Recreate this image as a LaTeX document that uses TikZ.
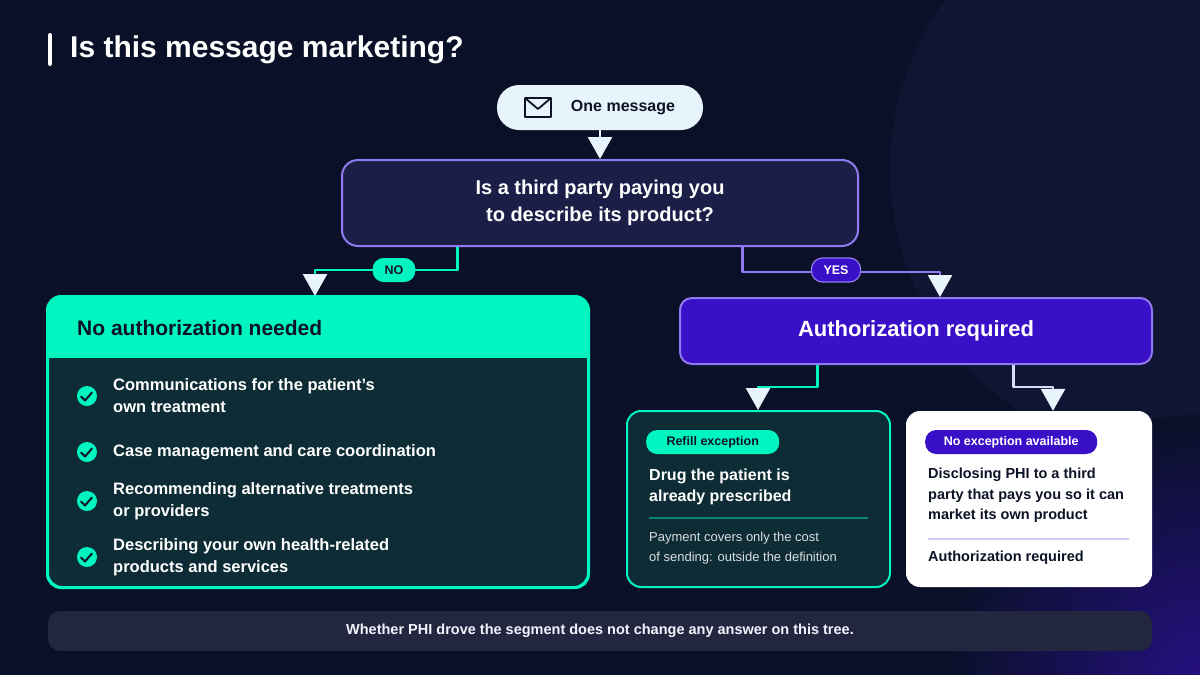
\documentclass[tikz,border=0pt]{standalone}
\usepackage{fontspec}
\setmainfont{Liberation Sans}
\usetikzlibrary{arrows.meta,calc,positioning}
\definecolor{bgdark}{HTML}{0A1027}
\definecolor{bglight}{HTML}{0F1533}
\definecolor{mint}{HTML}{00F5C0}
\definecolor{teal}{HTML}{0E2C35}
\definecolor{violet}{HTML}{3A0FC8}
\definecolor{lilac}{HTML}{8F7BEF}
\definecolor{navy}{HTML}{1B1F48}
\definecolor{ink}{HTML}{0D1326}
\definecolor{ice}{HTML}{E8F4FC}
\definecolor{footer}{HTML}{22263F}
\newcommand{\fs}[2]{\fontsize{#1}{#2}\selectfont}
\tikzset{
  flow/.style={line width=2.6pt,-{Triangle[width=24pt,length=22pt,color=ice]}},
  pill/.style={rounded corners=11pt,minimum height=24pt,inner xsep=12pt,font=\bfseries\fs{12.5}{15}},
  item/.style={anchor=west,align=left,text=white,font=\bfseries\fs{16.5}{22},inner sep=0pt},
  tick/.style={circle,fill=mint,minimum size=20pt,inner sep=0pt}
}
\begin{document}
\begin{tikzpicture}[x=1pt,y=-1pt,line join=round]
  \useasboundingbox (0,0) rectangle (1200,675);
  \fill[bgdark] (0,0) rectangle (1200,675);
  \begin{scope}
    \clip (0,0) rectangle (1200,675);
    \fill[bglight] (1180,170) circle (290);
    \shade[inner color=violet!55!bgdark,outer color=bgdark] (1200,675) circle (260);
  \end{scope}
  % title
  \draw[white,line width=4pt,line cap=round] (50,35) -- (50,64);
  \node[anchor=west,text=white,font=\bfseries\fs{30}{36},inner sep=0pt] (title) at (70,50) {Is this message marketing?};
  % start and question
  \node[fill=ice,rounded corners=22pt,minimum width=206pt,minimum height=45pt] (msg) at (600,107.5) {};
  \node[text=ink,font=\bfseries\fs{16}{19},inner sep=0pt] (msgtext) at (623,107.5) {One message};
  \draw[ink,line width=1.8pt] (525,98) rectangle (551,117) (525,98) -- (538,109) -- (551,98);
  \node[draw=lilac,line width=2pt,fill=navy,rounded corners=16pt,minimum width=516pt,minimum height=86pt,
        align=center,text=white,font=\bfseries\fs{20}{27}] (q) at (600,203) {Is a third party paying you\\to describe its product?};
  \draw[flow,ice] (msg.south) -- (q.north);
  % outcome boxes
  \node[draw=mint,line width=2pt,fill=teal,rounded corners=14pt,minimum width=540pt,minimum height=290pt] (noauth) at (318,442) {};
  \begin{scope}
    \clip[rounded corners=14pt] (noauth.north west) rectangle (noauth.south east);
    \fill[mint] (noauth.north west) rectangle (588,358);
  \end{scope}
  \draw[mint,line width=2pt,rounded corners=14pt] (noauth.north west) rectangle (noauth.south east);
  \node[anchor=west,text=ink,font=\bfseries\fs{21}{25},inner sep=0pt] (nohead) at (77,328) {No authorization needed};
  \node[draw=lilac,line width=2pt,fill=violet,rounded corners=12pt,minimum width=472pt,minimum height=66pt,
        text=white,font=\bfseries\fs{22}{26}] (auth) at (916,331) {Authorization required};
  % connectors
  \coordinate (noturn) at (315,270);
  \coordinate (yesturn) at (940,272);
  \draw[flow,mint] ($(q.south west)!0.225!(q.south east)$) |- (noturn) -- (noauth.north -| noturn);
  \draw[flow,lilac] ($(q.south west)!0.775!(q.south east)$) |- (yesturn) -- (auth.north -| yesturn);
  \node[pill,fill=mint,text=ink] (nolabel) at (394,270) {NO};
  \node[pill,draw=lilac,line width=1.2pt,fill=violet,text=white] (yeslabel) at (836,270) {YES};
  % checklist
  \foreach \y/\txt in {396/{Communications for the patient's\\own treatment},
                       452/{Case management and care coordination},
                       501/{Recommending alternative treatments\\or providers},
                       557/{Describing your own health-related\\products and services}}{
    \node[tick] (c\y) at (87,\y) {};
    \draw[ink,line width=2pt,line cap=round] (81,\y) ++(0,0.5) -- ++(4,4) -- ++(7,-8);
    \node[item] (t\y) at (113,\y) {\txt};
  }
  % sub cases
  \node[draw=mint,line width=2pt,fill=teal,rounded corners=14pt,minimum width=263pt,minimum height=176pt] (refill) at (758.5,499) {};
  \node[fill=white,rounded corners=14pt,minimum width=246pt,minimum height=176pt] (noexc) at (1029,499) {};
  \coordinate (lturn) at (758,387);
  \coordinate (rturn) at (1053,387);
  \draw[flow,mint] ($(auth.south west)!0.292!(auth.south east)$) |- (lturn) -- (refill.north -| lturn);
  \draw[flow,ice!80!lilac] ($(auth.south west)!0.706!(auth.south east)$) |- (rturn) -- (noexc.north -| rturn);
  % refill card
  \node[pill,fill=mint,text=ink,anchor=west,minimum width=133pt] (refpill) at (646,442) {Refill exception};
  \node[item,font=\bfseries\fs{16}{21}] (reftext) at (649,486.5) {Drug the patient is\\already prescribed};
  \draw[mint!45!teal,line width=1.2pt] (649,518) -- (868,518);
  \node[item,font=\fs{13}{20},text=white!85!teal] (refnote) at (649,548) {Payment covers only the cost\\of sending: outside the definition};
  % no exception card
  \node[pill,fill=violet,text=white,anchor=west,minimum width=172pt] (noepill) at (925,442) {No exception available};
  \node[item,text=ink,font=\bfseries\fs{14.5}{20.5}] (noetext) at (928,495.5) {Disclosing PHI to a third\\party that pays you so it can\\market its own product};
  \draw[lilac!40!white,line width=1.2pt] (928,539) -- (1129,539);
  \node[item,text=ink,font=\bfseries\fs{14.5}{18}] (noeauth) at (928,558) {Authorization required};
  % footer
  \node[fill=footer,rounded corners=12pt,minimum width=1104pt,minimum height=40pt,
        text=white!90!lilac,font=\bfseries\fs{14.5}{18}] (foot) at (600,631) {Whether PHI drove the segment does not change any answer on this tree.};
\end{tikzpicture}
\end{document}
